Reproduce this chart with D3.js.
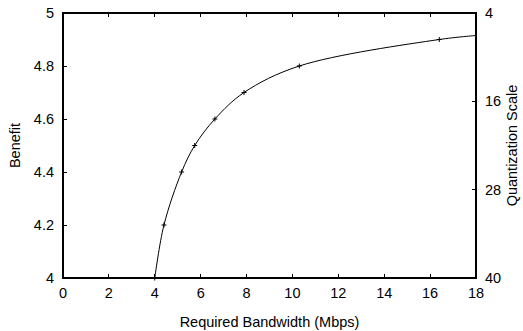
<!DOCTYPE html>
<html><head><meta charset="utf-8">
<script src="https://cdn.jsdelivr.net/npm/d3@7"></script>
<style>body{margin:0;background:#fff}svg{display:block}text{font-family:"Liberation Sans",Arial,sans-serif;fill:#000}</style>
</head><body>
<script>
// Data
const bandwidth = [4.0, 4.4, 5.17, 5.74, 6.62, 7.89, 10.3, 16.4];
const benefit   = [4.0, 4.2, 4.4, 4.5, 4.6, 4.7, 4.8, 4.9];
const lineEndBandwidth = 18;
const lineEndBenefit = 4.915;
const xTicks = [0,2,4,6,8,10,12,14,16,18];
const yTicks = [4,4.2,4.4,4.6,4.8,5];
const y2Ticks = [4,16,28,40];

const W=523,H=331;
const m={l:63,r:476,t:13,b:278};
const svg=d3.select("body").append("svg").attr("width",W).attr("height",H);
const x=d3.scaleLinear().domain([0,18]).range([m.l,m.r]);
const y=d3.scaleLinear().domain([4,5]).range([m.b,m.t]);
const y2=d3.scaleLinear().domain([40,4]).range([m.b,m.t]);
const fs=14.5;

// ticks (inward) with mirrored ticks
const g=svg.append("g").attr("stroke","#000").attr("stroke-width",1).attr("shape-rendering","crispEdges");
xTicks.forEach(t=>{
  g.append("line").attr("x1",x(t)).attr("x2",x(t)).attr("y1",m.b).attr("y2",m.b-4);
  g.append("line").attr("x1",x(t)).attr("x2",x(t)).attr("y1",m.t).attr("y2",m.t+4);
});
yTicks.forEach(t=>{
  g.append("line").attr("x1",m.l).attr("x2",m.l+4).attr("y1",y(t)).attr("y2",y(t));
});
y2Ticks.forEach(t=>{
  g.append("line").attr("x1",m.r).attr("x2",m.r-4).attr("y1",y2(t)).attr("y2",y2(t));
});
g.append("rect").attr("x",m.l).attr("y",m.t).attr("width",m.r-m.l).attr("height",m.b-m.t).attr("fill","none").attr("stroke-width",1.2);

// labels
svg.append("g").selectAll("text").data(xTicks).join("text")
  .attr("x",d=>x(d)).attr("y",298).attr("text-anchor","middle").attr("font-size",fs).text(d=>d);
svg.append("g").selectAll("text").data(yTicks).join("text")
  .attr("x",54).attr("y",d=>y(d)+5).attr("text-anchor","end").attr("font-size",fs).text(d=>d3.format(".1~f")(d));
svg.append("g").selectAll("text").data(y2Ticks).join("text")
  .attr("x",485).attr("y",d=>y2(d)+5).attr("text-anchor","start").attr("font-size",fs).text(d=>d);

svg.append("text").attr("x",(m.l+m.r)/2).attr("y",327).attr("text-anchor","middle").attr("font-size",fs).text("Required Bandwidth (Mbps)");
svg.append("text").attr("transform",`translate(20,${(m.t+m.b)/2}) rotate(-90)`).attr("text-anchor","middle").attr("font-size",fs).text("Benefit");
svg.append("text").attr("transform",`translate(517,${(m.t+m.b)/2}) rotate(-90)`).attr("text-anchor","middle").attr("font-size",fs).text("Quantization Scale");

// curve
const pts=bandwidth.map((b,i)=>[b,benefit[i]]);
const linePts=pts.concat([[lineEndBandwidth,lineEndBenefit]]);
const line=d3.line().x(d=>x(d[0])).y(d=>y(d[1])).curve(d3.curveCatmullRom.alpha(0.5));
svg.append("path").attr("d",line(linePts)).attr("fill","none").attr("stroke","#000").attr("stroke-width",1);

// markers "+"
const mk=svg.append("g").attr("stroke","#000").attr("stroke-width",1);
pts.forEach(p=>{
  const cx=x(p[0]),cy=y(p[1]);
  mk.append("line").attr("x1",cx-2.5).attr("x2",cx+2.5).attr("y1",cy).attr("y2",cy);
  mk.append("line").attr("x1",cx).attr("x2",cx).attr("y1",cy-2.5).attr("y2",cy+2.5);
});
</script>
</body></html>
